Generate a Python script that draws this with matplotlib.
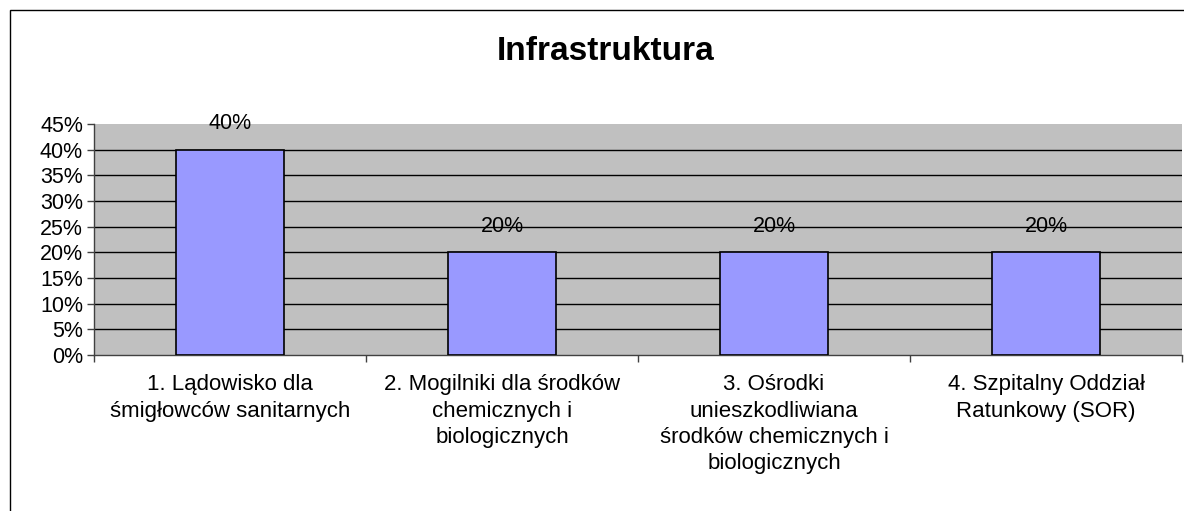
import matplotlib
matplotlib.use("Agg")
import matplotlib.pyplot as plt
from matplotlib.patches import Rectangle
from matplotlib.ticker import MultipleLocator, FuncFormatter, FixedLocator

plt.rcParams['font.family'] = ['Liberation Sans', 'DejaVu Sans']

title = "Infrastruktura"
categories = [
    "1. Lądowisko dla\nśmigłowców sanitarnych",
    "2. Mogilniki dla środków\nchemicznych i\nbiologicznych",
    "3. Ośrodki\nunieszkodliwiana\nśrodków chemicznych i\nbiologicznych",
    "4. Szpitalny Oddział\nRatunkowy (SOR)",
]
values = [40, 20, 20, 20]
value_labels = ["40%", "20%", "20%", "20%"]

W, H = 1184, 511
fig = plt.figure(figsize=(W / 100, H / 100), dpi=100)
fig.patch.set_facecolor("white")

# chart-area frame
fig.patches.append(Rectangle((10 / W, -0.1), 1.2, (H - 10) / H + 0.1,
                             transform=fig.transFigure, fill=False,
                             edgecolor="black", linewidth=1.0))

ax = fig.add_axes([94 / W, (H - 355) / H, (1182 - 94) / W, (355 - 124) / H])
ax.set_facecolor("#C0C0C0")

x = list(range(len(categories)))
ax.bar(x, values, width=0.4, color="#9999FF", edgecolor="black",
       linewidth=1.2, zorder=3)

for xi, v, lab in zip(x, values, value_labels):
    ax.annotate(lab, (xi, v), xytext=(0, 18.5), textcoords="offset points",
                ha="center", va="center", fontsize=15.5, color="black",
                zorder=4)

ax.set_xlim(-0.5, len(categories) - 0.5)
ax.set_ylim(0, 45)
ax.yaxis.set_major_locator(MultipleLocator(5))
ax.yaxis.set_major_formatter(FuncFormatter(lambda v, p: f"{v:.0f}%"))
for yv in range(5, 45, 5):
    ax.axhline(yv, color="black", linewidth=1.0, zorder=1)

ax.xaxis.set_major_locator(FixedLocator(x))
ax.set_xticklabels(categories, fontsize=16, linespacing=1.33, va="top")
ax.tick_params(axis="x", which="major", length=0, pad=14)
ax.xaxis.set_minor_locator(FixedLocator([i + 0.5 for i in range(-1, len(categories))]))
ax.tick_params(axis="x", which="minor", length=5, direction="out",
               color="#404040", width=1)
ax.tick_params(axis="y", labelsize=15.5, length=5, direction="out",
               color="#404040", width=1, pad=3)

for side in ("top", "right"):
    ax.spines[side].set_visible(False)
for side in ("left", "bottom"):
    ax.spines[side].set_color("#404040")
    ax.spines[side].set_linewidth(1.0)

fig.text(606 / W, 1 - 52 / H, title, ha="center", va="center",
         fontsize=24, fontweight="bold")

fig.savefig("out.png", dpi=100)
